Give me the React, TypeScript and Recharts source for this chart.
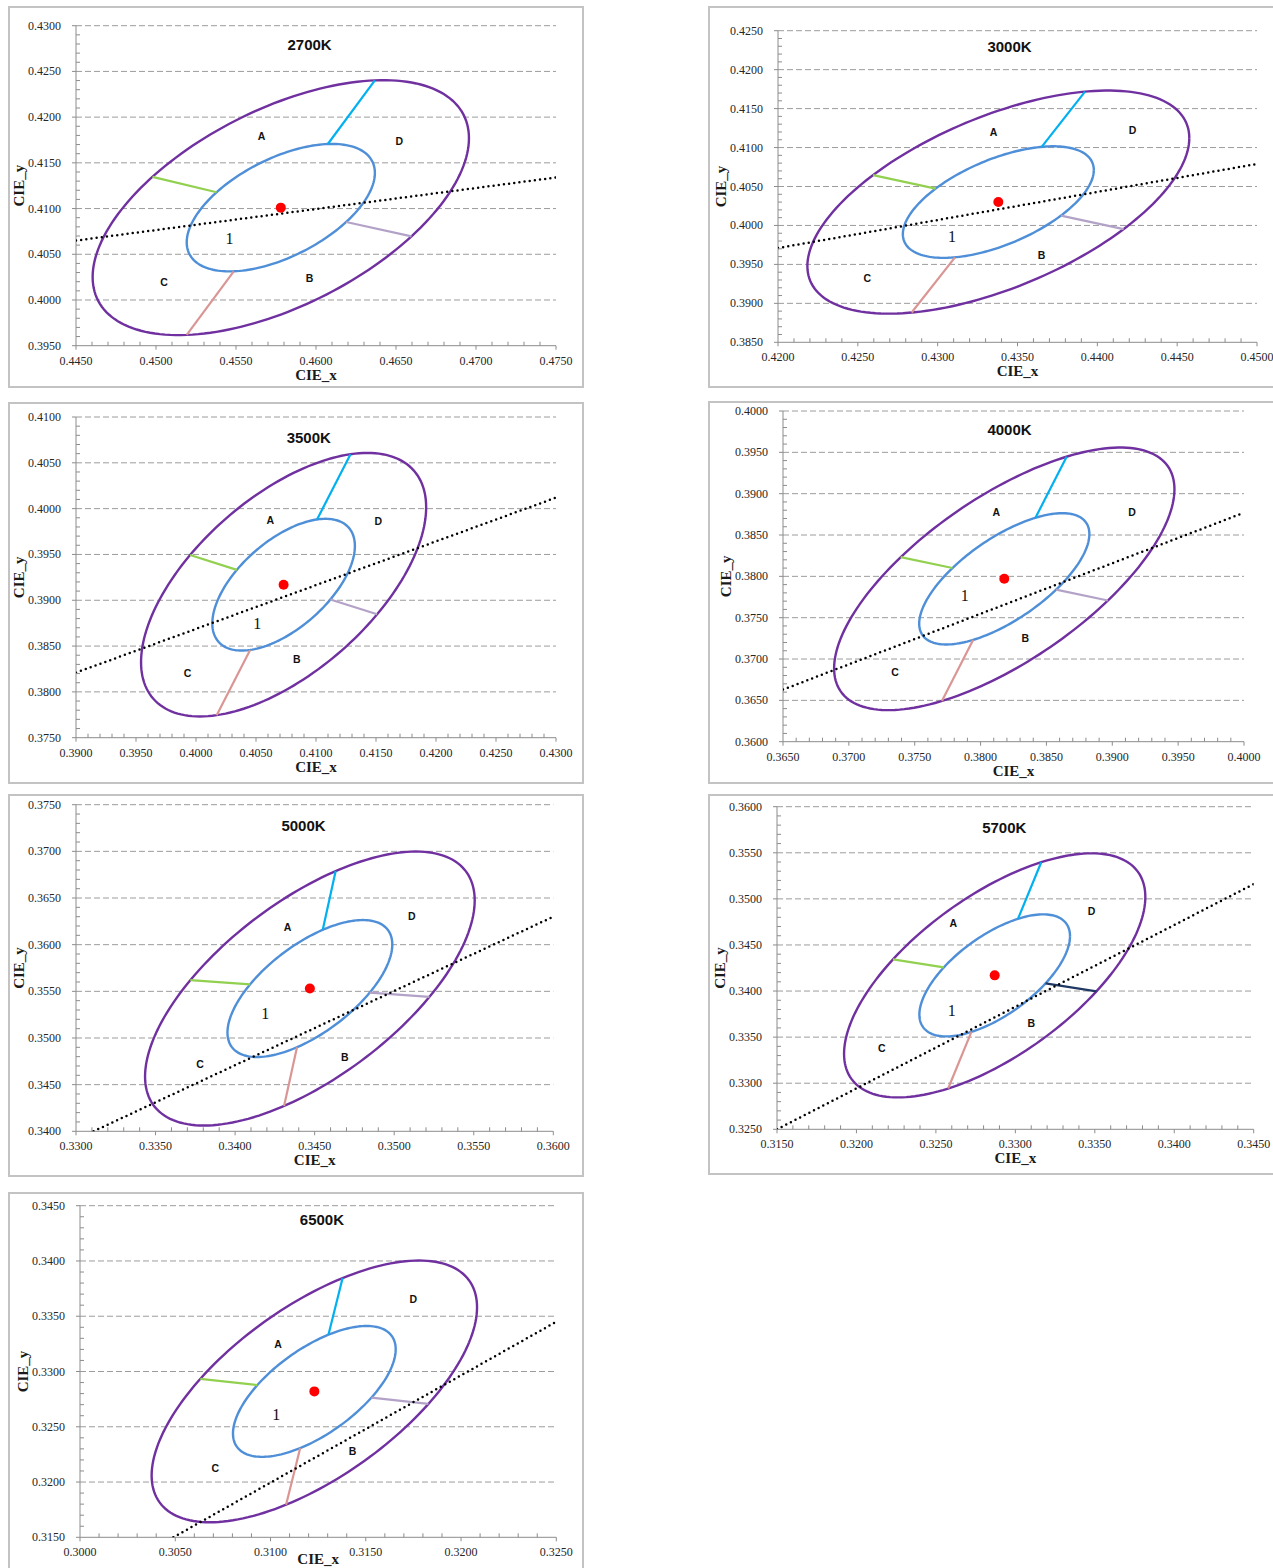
import React from "react";
import { ScatterChart, Scatter, XAxis, YAxis, ReferenceLine } from "recharts";

const SERIF = "'Liberation Serif', 'Times New Roman', serif";
const SANS = "'Liberation Sans', Arial, sans-serif";
const AXIS = "#8c8c8c";
const GRID = "#9c9c9c";

// CCT panels
const TITLES = ["2700K", "3000K", "3500K", "4000K", "5000K", "5700K", "6500K"];
const X_RANGES = [[0.445, 0.475], [0.42, 0.45], [0.39, 0.43], [0.365, 0.4], [0.33, 0.36], [0.315, 0.345], [0.3, 0.325]];
const Y_RANGES = [[0.395, 0.43], [0.385, 0.425], [0.375, 0.41], [0.36, 0.4], [0.34, 0.375], [0.325, 0.36], [0.315, 0.345]];

// nominal centre (red dot) = ellipse centre
const CENTERS = [[0.4578, 0.4101], [0.4338, 0.403], [0.4073, 0.3917], [0.3818, 0.3797], [0.3447, 0.3553], [0.3287, 0.3417], [0.3123, 0.3282]];
// inner ellipse: half width / half height in x,y and phase (deg); outer one is 2x
const INNER_RX = [0.00588, 0.00598, 0.00594, 0.00646, 0.00518, 0.00474, 0.00427];
const INNER_RY = [0.00697, 0.00716, 0.00719, 0.00794, 0.00734, 0.00662, 0.00592];
const PHASE = [57, 55, 54, 47, 50, 50, 50];
const OUTER_K = 2;

// divider angles on the ellipse: top, left, right, bottom
const SEG_T = [
  [60, 133, 314, 240],
  [63, 131, 311, 243],
  [62, 131, 311, 242],
  [68.5, 127.5, 307.5, 248.5],
  [81, 136.5, 316.5, 261],
  [72, 132.5, 312.5, 252],
  [80, 134.5, 314.5, 260],
];
const RIGHT_SEG_COLOR = ["#b3a2c7", "#b3a2c7", "#b3a2c7", "#b3a2c7", "#b3a2c7", "#1f3864", "#b3a2c7"];

// black dotted locus line
const LOCUS_FROM = [[0.445, 0.4065], [0.42, 0.3971], [0.39, 0.3821], [0.365, 0.3663], [0.3311, 0.34], [0.315, 0.325], [0.3049, 0.315]];
const LOCUS_TO = [[0.475, 0.4134], [0.45, 0.4079], [0.43, 0.4012], [0.4, 0.3877], [0.36, 0.363], [0.345, 0.3516], [0.325, 0.3345]];

// label positions
const POS_A = [[0.4566, 0.4179], [0.4335, 0.4119], [0.4062, 0.3987], [0.3812, 0.3877], [0.3433, 0.3619], [0.3261, 0.3474], [0.3104, 0.3325]];
const POS_B = [[0.4596, 0.4024], [0.4365, 0.3962], [0.4084, 0.3836], [0.3834, 0.3725], [0.3469, 0.3479], [0.331, 0.3365], [0.3143, 0.3228]];
const POS_C = [[0.4505, 0.4019], [0.4256, 0.3932], [0.3993, 0.382], [0.3735, 0.3684], [0.3378, 0.3472], [0.3216, 0.3338], [0.3071, 0.3212]];
const POS_D = [[0.4652, 0.4174], [0.4422, 0.4122], [0.4152, 0.3986], [0.3915, 0.3878], [0.3511, 0.363], [0.3348, 0.3487], [0.3175, 0.3365]];
const POS_1 = [[0.4546, 0.4067], [0.4309, 0.3986], [0.4051, 0.3875], [0.3788, 0.3777], [0.3419, 0.3526], [0.326, 0.3379], [0.3103, 0.3261]];
const TITLE_POS = [[0.4596, 0.4279], [0.4345, 0.423], [0.4094, 0.4077], [0.3822, 0.3977], [0.3443, 0.3727], [0.3293, 0.3577], [0.3127, 0.3437]];

// layout (page px): frame x,y,w,h and plot l,t,r,b
const FRAMES = [[8, 6, 576, 382], [708, 6, 568, 382], [8, 402, 576, 382], [708, 401, 568, 383], [8, 794, 576, 383], [708, 794, 568, 381], [8, 1192, 576, 392]];
const PLOTS = [[76, 25.7, 556, 345.7], [778, 30.7, 1257, 342.3], [76, 417, 556, 737.7], [783, 411, 1244, 741.7], [76, 804.7, 553.3, 1131.3], [777, 806.7, 1253.7, 1129.3], [80, 1205.7, 556.3, 1537.3]];
// CIE_x baseline below the axis (last panel is cut by the page edge)
const XTITLE_DY = [34, 34, 34, 34, 34, 34, 27];
const Y_W = 60;
const X_H = 40;

const rad = (d: number) => (d * Math.PI) / 180;

function ellipsePt(i: number, k: number, deg: number) {
  const [cx, cy] = CENTERS[i];
  return {
    x: cx + k * INNER_RX[i] * Math.cos(rad(deg)),
    y: cy + k * INNER_RY[i] * Math.cos(rad(deg - PHASE[i])),
  };
}

function ellipse(i: number, k: number) {
  const pts = [];
  for (let d = 0; d <= 360; d += 2) pts.push(ellipsePt(i, k, d));
  return pts;
}

function allTicks([min, max]: number[]) {
  const n = Math.round((max - min) / 0.001);
  const out: number[] = [];
  for (let j = 0; j <= n; j++) out.push(+(min + j * 0.001).toFixed(4));
  return out;
}

const isMajor = (v: number) => Math.round(v * 1000) % 5 === 0;

function XTick(p: any) {
  const v = p.payload.value;
  const major = isMajor(v);
  return (
    <g>
      <line x1={p.x} x2={p.x} y1={p.y} y2={major ? p.y + 4 : p.y - 4} stroke={AXIS} />
      {major && (
        <text x={p.x} y={p.y + 19} textAnchor="middle" fontFamily={SERIF} fontSize={12} fill="#262626">
          {v.toFixed(4)}
        </text>
      )}
    </g>
  );
}

function YTick(p: any) {
  const v = p.payload.value;
  const major = isMajor(v);
  return (
    <g>
      <line x1={p.x} x2={major ? p.x - 4 : p.x + 4} y1={p.y} y2={p.y} stroke={AXIS} />
      {major && (
        <text x={p.x - 15} y={p.y + 4} textAnchor="end" fontFamily={SERIF} fontSize={12} fill="#262626">
          {v.toFixed(4)}
        </text>
      )}
    </g>
  );
}

const none = () => <g />;

function textAt(txt: string, size: number, family: string, bold: boolean) {
  return (p: any) => (
    <text x={p.cx} y={p.cy} dy={size * 0.35} textAnchor="middle" fontFamily={family} fontSize={size} fontWeight={bold ? "bold" : "normal"} fill="#111">
      {txt}
    </text>
  );
}

function Panel({ i }: { i: number }) {
  const [fx, fy, fw, fh] = FRAMES[i];
  const [pl, pt, pr, pb] = PLOTS[i];
  const margin = { left: pl - fx - Y_W, top: pt - fy, right: fx + fw - pr, bottom: fy + fh - pb - X_H };
  const yt = allTicks(Y_RANGES[i]);
  const gridY = yt.filter((v) => isMajor(v) && v !== yt[0]);
  const [cx, cy] = CENTERS[i];
  const segColors = ["#00b0f0", "#92d050", RIGHT_SEG_COLOR[i], "#d99694"];
  const pt1 = (pos: number[]) => [{ x: pos[0], y: pos[1] }];

  return (
    <>
      <div
        style={{ position: "absolute", left: fx, top: fy, width: fw, height: fh, border: "2px solid #c3c3c3", boxSizing: "border-box" }}
      />
      <div style={{ position: "absolute", left: fx, top: fy }}>
        <ScatterChart width={fw} height={fh} margin={margin}>
          <XAxis
            type="number"
            dataKey="x"
            domain={X_RANGES[i]}
            ticks={allTicks(X_RANGES[i])}
            interval={0}
            allowDataOverflow
            height={X_H}
            tickSize={0}
            tickMargin={0}
            tickLine={false}
            tick={XTick}
            axisLine={{ stroke: AXIS }}
            label={(p: any) => {
              const vb = p.viewBox;
              return (
                <text x={vb.x + vb.width / 2} y={vb.y + XTITLE_DY[i]} textAnchor="middle" fontFamily={SERIF} fontWeight="bold" fontSize={15} fill="#1a1a1a">
                  CIE_x
                </text>
              );
            }}
          />
          <YAxis
            type="number"
            dataKey="y"
            domain={Y_RANGES[i]}
            ticks={yt}
            interval={0}
            allowDataOverflow
            width={Y_W}
            tickSize={0}
            tickMargin={0}
            tickLine={false}
            tick={YTick}
            axisLine={{ stroke: AXIS }}
            label={(p: any) => {
              const vb = p.viewBox;
              const x = vb.x + vb.width - 52;
              const y = vb.y + vb.height / 2;
              return (
                <text x={x} y={y} transform={`rotate(-90 ${x} ${y})`} textAnchor="middle" fontFamily={SERIF} fontWeight="bold" fontSize={15} fill="#1a1a1a">
                  CIE_y
                </text>
              );
            }}
          />
          {gridY.map((v) => (
            <ReferenceLine key={v} y={v} stroke={GRID} strokeDasharray="6 3" />
          ))}
          <Scatter data={ellipse(i, OUTER_K)} line={{ stroke: "#7030a0", strokeWidth: 2.4 }} lineType="joint" shape={none} isAnimationActive={false} />
          <Scatter data={ellipse(i, 1)} line={{ stroke: "#4f8fd8", strokeWidth: 2.4 }} lineType="joint" shape={none} isAnimationActive={false} />
          {SEG_T[i].map((t, j) => (
            <Scatter
              key={j}
              data={[ellipsePt(i, 1, t), ellipsePt(i, OUTER_K, t)]}
              line={{ stroke: segColors[j], strokeWidth: 2.2 }}
              lineType="joint"
              shape={none}
              isAnimationActive={false}
            />
          ))}
          <Scatter
            data={[
              { x: LOCUS_FROM[i][0], y: LOCUS_FROM[i][1] },
              { x: LOCUS_TO[i][0], y: LOCUS_TO[i][1] },
            ]}
            line={{ stroke: "#000", strokeWidth: 2.5, strokeDasharray: "0 5.2", strokeLinecap: "round" }}
            lineType="joint"
            shape={none}
            isAnimationActive={false}
          />
          <Scatter
            data={[{ x: cx, y: cy }]}
            shape={(p: any) => <circle cx={p.cx} cy={p.cy} r={5} fill="#ff0000" />}
            isAnimationActive={false}
          />
          <Scatter data={pt1(POS_A[i])} shape={textAt("A", 10.5, SANS, true)} isAnimationActive={false} />
          <Scatter data={pt1(POS_B[i])} shape={textAt("B", 10.5, SANS, true)} isAnimationActive={false} />
          <Scatter data={pt1(POS_C[i])} shape={textAt("C", 10.5, SANS, true)} isAnimationActive={false} />
          <Scatter data={pt1(POS_D[i])} shape={textAt("D", 10.5, SANS, true)} isAnimationActive={false} />
          <Scatter data={pt1(POS_1[i])} shape={textAt("1", 16, SERIF, false)} isAnimationActive={false} />
          <Scatter data={pt1(TITLE_POS[i])} shape={textAt(TITLES[i], 15, SANS, true)} isAnimationActive={false} />
        </ScatterChart>
      </div>
    </>
  );
}

export default function App() {
  return (
    <div style={{ position: "absolute", left: 0, top: 0, width: 1273, height: 1568, overflow: "hidden", background: "#fff" }}>
      {TITLES.map((_, i) => (
        <Panel key={i} i={i} />
      ))}
    </div>
  );
}
